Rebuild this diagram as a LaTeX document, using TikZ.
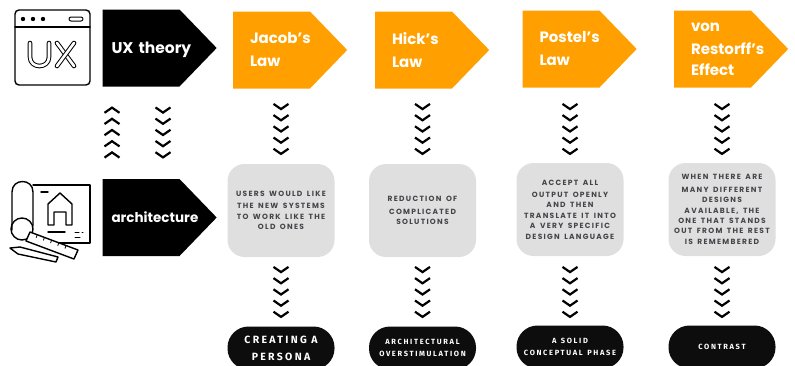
\documentclass[tikz,border=0pt]{standalone}
\usepackage{fontspec}
\setmainfont{Poppins}
\newfontfamily\boxfont[LetterSpace=17]{Poppins}
\newfontfamily\pillfont[LetterSpace=22]{Fira Sans}
\usetikzlibrary{shapes.symbols, calc}
\definecolor{lawcolor}{RGB}{255,160,0}
\definecolor{boxcolor}{RGB}{224,223,224}
\definecolor{boxtext}{RGB}{70,68,72}
\tikzset{
  theory/.style={shape=signal, signal to=east, signal pointer angle=92, fill=black, text=white,
    minimum height=77pt, inner sep=0pt, outer sep=0pt, anchor=west, text width=77pt, align=left,
    execute at begin node={\leftskip=9pt\vspace*{-3pt}},
    font=\bfseries\fontsize{13.5}{16}\selectfont},
  law/.style={theory, fill=lawcolor, execute at begin node={\leftskip=17pt\vspace*{5pt}},
    font=\bfseries\fontsize{15}{21}\selectfont},
  statement/.style={rectangle, rounded corners=17pt, fill=boxcolor, text=boxtext,
    minimum width=107pt, minimum height=93pt, inner sep=0pt, text width=106pt, align=center,
    execute at begin node={\spaceskip=4.5pt\relax\vspace*{2pt}},
    font=\boxfont\bfseries\fontsize{7.5}{10.4}\selectfont},
  result/.style={rectangle, rounded corners=21pt, fill=black!95, text=white,
    minimum width=107pt, minimum height=43pt, inner sep=0pt, text width=106pt, align=center,
    execute at begin node={\spaceskip=4.5pt\relax},
    font=\pillfont\bfseries\fontsize{7.5}{11.7}\selectfont},
  icon/.style={line width=1.4pt, line join=round, line cap=round},
  chevrons/.pic={
    \foreach \k in {0,...,4}
      \draw[line width=2.2pt, line join=miter] (-7.5,{\k*11.2-2.6}) -- (0,{\k*11.2+2.6}) -- (7.5,{\k*11.2-2.6});
  }
}
\begin{document}
\begin{tikzpicture}[x=1pt, y=-1pt]
  \useasboundingbox (0,0) rectangle (795,365);

  \node (uxtheory) [theory, font=\bfseries\fontsize{15.5}{16}\selectfont] at (102.5,48) {\mbox{UX theory}};
  \node (arch)     [theory] at (102.5,217.5) {architecture};

  \node (jacob)   [law] at (233,50) {Jacob's\\Law};
  \node (hick)    [law] at (375,50) {Hick's\\Law};
  \node (postel)  [law] at (522.5,49) {Postel's\\Law};
  \node (restorff) [law] at (674,49) {von\\Restorff's\\Effect};

  \node (s1) [statement] at (281,210.5) {USERS WOULD LIKE\\THE NEW SYSTEMS\\TO WORK LIKE THE\\OLD ONES};
  \node (s2) [statement] at (422.5,210.5) {REDUCTION OF\\COMPLICATED\\SOLUTIONS};
  \node (s3) [statement] at (570,209.5) {ACCEPT ALL\\OUTPUT OPENLY\\AND THEN\\TRANSLATE IT INTO\\A VERY SPECIFIC\\DESIGN LANGUAGE};
  \node (s4) [statement] at (722,209.5) {WHEN THERE ARE\\MANY DIFFERENT\\DESIGNS\\AVAILABLE, THE\\ONE THAT STANDS\\OUT FROM THE REST\\IS REMEMBERED};

  \node (r1) [result, font=\pillfont\bfseries\fontsize{10.5}{17}\selectfont] at (281,348) {CREATING A\\PERSONA};
  \node (r2) [result] at (422.5,348) {ARCHITECTURAL\\OVERSTIMULATION};
  \node (r3) [result] at (570,347) {A SOLID\\CONCEPTUAL PHASE};
  \node (r4) [result] at (722,347) {CONTRAST};

  % chevrons
  \foreach \n in {s1,s2,s3,s4} {
    \path (\n |- 0,106.5) pic {chevrons};
    \path (\n |- 0,269.5) pic {chevrons};
  }
  \path (163,110) pic {chevrons};
  \path (112,155) pic[yscale=-1] {chevrons};

  % ux window
  \draw[icon, rounded corners=4pt] (15,10) rectangle (90,85);
  \draw[icon] (15,27) -- (90,27);
  \foreach \x in {23,33,43}
    \fill (\x,19) circle (2.2pt);
  \draw[icon, line width=1pt, rounded corners=2pt] (69,17) rectangle (83,21);
  \draw[icon, double=white, line width=1pt, double distance=2.6pt] (30,43) -- (30,57)
    .. controls (30,69) and (49,69) .. (49,57) -- (49,43);
  \draw[icon, double=white, line width=1pt, double distance=2.6pt] (57,43) -- (74,66);
  \draw[icon, double=white, line width=1pt, double distance=2.6pt] (74,43) -- (57,66);

  % blueprint
  \draw[icon] (33,185) -- (90,185) -- (90,243) -- (34,243);
  \draw[icon] (12,230) -- (12,192) .. controls (12,178) and (33,178) .. (33,192) -- (33,226);
  \draw[icon] (22,229) circle (11pt);
  \draw[icon] (48,225) -- (48,204) -- (60,193) -- (72,204) -- (72,225) -- (66,225) -- (66,212)
    -- (54,212) -- (54,225) -- cycle;
  \draw[icon] (41,192) -- (48,192);
  \draw[icon] (48,232) -- (65,232);
  \draw[icon, line width=1pt] (75,232) -- (79,232) (82,232) -- (83,232) (75,237) -- (80,237);
  \draw[icon, fill=white] (30,232) -- (78,250) -- (74,259) -- (26,241) -- cycle;
  \foreach \t in {0.15,0.3,...,0.9}
    \draw[line width=0.8pt] ($(30,232)!\t!(78,250)$) -- ++(-1,3);
  \draw[icon, fill=white] (10,248) -- (20,247) -- (58,257) -- (56,262) -- (18,254) -- cycle;
\end{tikzpicture}
\end{document}
